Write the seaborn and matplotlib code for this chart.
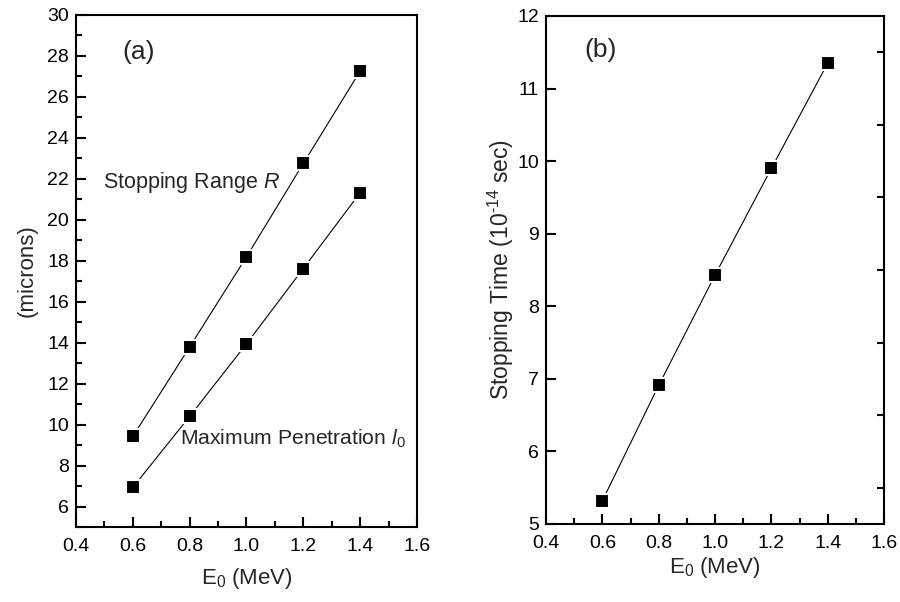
import numpy as np
import pandas as pd
import seaborn as sns
import matplotlib
matplotlib.use("Agg")
import matplotlib.pyplot as plt
from matplotlib.ticker import MultipleLocator, FormatStrFormatter

# data
energy = [0.6, 0.8, 1.0, 1.2, 1.4]
stopping_range = [9.42, 13.79, 18.19, 22.75, 27.26]
max_penetration = [6.93, 10.40, 13.94, 17.62, 21.32]
stopping_time = [5.32, 6.91, 8.43, 9.90, 11.35]

sns.set_theme(style="ticks")
plt.rcParams.update({
    "font.family": ["Liberation Sans", "DejaVu Sans"],
    "mathtext.fontset": "custom",
    "mathtext.rm": "Liberation Sans",
    "mathtext.it": "Liberation Sans:italic",
    "mathtext.bf": "Liberation Sans:bold",
    "axes.edgecolor": "black",
    "axes.linewidth": 1.5,
    "xtick.color": "black",
    "ytick.color": "black",
})

fig = plt.figure(figsize=(9, 6.02), dpi=100)
ax_a = fig.add_axes([0.0844, 0.1246, 0.3789, 0.8505])
ax_b = fig.add_axes([0.6067, 0.1296, 0.3756, 0.8439])

line_kw = dict(marker="s", color="black", linewidth=0.8, markersize=10,
               markeredgecolor="white", markeredgewidth=1.5, markerfacecolor="black")

df_a = pd.DataFrame({"E0": energy, "R": stopping_range, "l0": max_penetration})
sns.lineplot(data=df_a, x="E0", y="R", ax=ax_a, **line_kw)
sns.lineplot(data=df_a, x="E0", y="l0", ax=ax_a, **line_kw)

df_b = pd.DataFrame({"E0": energy, "t": stopping_time})
sns.lineplot(data=df_b, x="E0", y="t", ax=ax_b, **line_kw)

for ax in (ax_a, ax_b):
    ax.set_xlim(0.4, 1.6)
    ax.xaxis.set_major_locator(MultipleLocator(0.2))
    ax.xaxis.set_minor_locator(MultipleLocator(0.1))
    ax.xaxis.set_major_formatter(FormatStrFormatter("%.1f"))
    ax.tick_params(which="both", direction="in", width=1.5, labelsize=14,
                   top=False, right=False)
    ax.tick_params(which="major", length=7.5)
    ax.tick_params(which="minor", length=4)
    ax.tick_params(axis="x", pad=8)
    ax.tick_params(axis="y", pad=5)
    for s in ax.spines.values():
        s.set_visible(True)
        s.set_linewidth(1.5)

# panel (a)
ax_a.set_ylim(5, 30)
ax_a.yaxis.set_major_locator(MultipleLocator(2))
ax_a.yaxis.set_minor_locator(MultipleLocator(1))
ax_a.set_xlabel(r"E$_0$ (MeV)", fontsize=16, labelpad=8)
ax_a.set_ylabel("(microns)", fontsize=16, labelpad=7)
ax_a.text(0.622, 28.2, "(a)", fontsize=19, ha="center", va="center")
ax_a.text(0.495, 21.8, r"Stopping Range $R$", fontsize=15.5, va="center")
ax_a.text(0.766, 9.3, r"Maximum Penetration $l_0$", fontsize=15.2, va="center")

# panel (b)
ax_b.set_ylim(5, 12)
ax_b.yaxis.set_major_locator(MultipleLocator(1))
ax_b.yaxis.set_minor_locator(MultipleLocator(0.5))
ax_b.tick_params(axis="y", which="minor", left=False, right=True, length=5)
ax_b.set_xlabel(r"E$_0$ (MeV)", fontsize=16, labelpad=2)
ax_b.set_ylabel("Stopping Time (10$^{\u201014}$ sec)", fontsize=16.5, labelpad=1)
ax_b.text(0.592, 11.53, "(b)", fontsize=19, ha="center", va="center")

fig.savefig("out.png", dpi=100)
